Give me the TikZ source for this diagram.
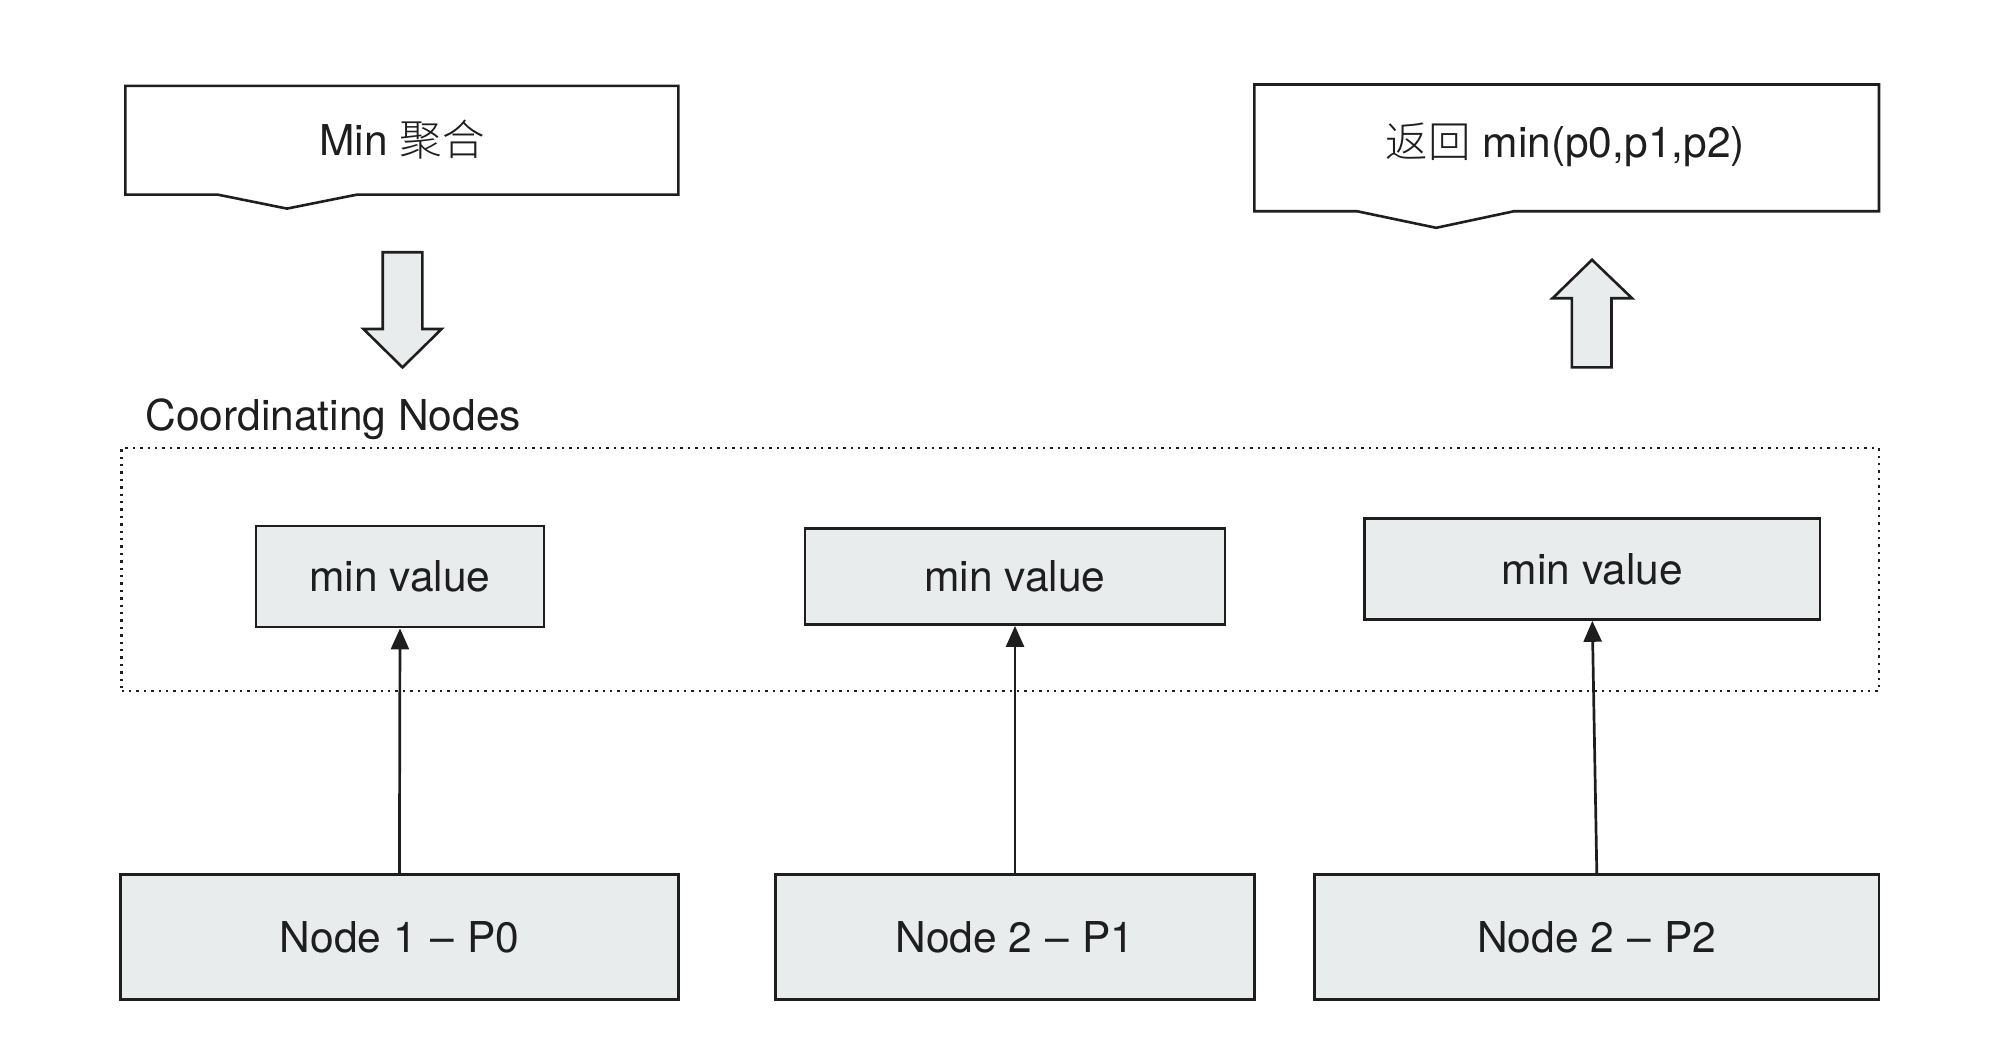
\documentclass[tikz,border=0pt]{standalone}
\usepackage{fontspec}
\setmainfont{TeX Gyre Heros}
\newfontfamily\cjk{Noto Sans CJK SC Light}
\usetikzlibrary{arrows.meta}
\definecolor{boxfill}{RGB}{232,236,237}
\definecolor{ink}{RGB}{30,30,30}
% en dash with slightly widened spacing on both sides
\newcommand{\spdash}{\kern1.5pt–\kern1.5pt{} }

\begin{document}
\begin{tikzpicture}[x=1pt,y=-1pt,
  txt/.style={font=\fontsize{42.5}{50}\selectfont, text=ink},
  box/.style={txt, draw=ink, line width=2.6pt, fill=boxfill, inner sep=0pt},
  link/.style={draw=ink, line width=2.7pt, -{Triangle[length=21pt,width=18pt]}},
  callout/.style={draw=ink, line width=2.6pt, fill=white, line join=miter},
  blockarrow/.style={draw=ink, line width=2.6pt, fill=boxfill, line join=miter},
  cluster/.style={draw=ink, line width=2.4pt, dash pattern=on 2.4pt off 5pt, inner sep=0pt}
]
\useasboundingbox (0,0) rectangle (2007,1050);

% coordinating-node group frame
\node[cluster, minimum width=1757.4pt, minimum height=243.2pt] (coord) at (1000.3,569.6) {};
\node[txt, anchor=west] (coordlabel) at (142,419) {Coordinating Nodes};

% partial results on the coordinating node
\node[box, minimum width=288pt, minimum height=101pt] (mv1) at (400,576.6) {min value};
\node[box, minimum width=420pt, minimum height=96pt] (mv2) at (1015,576.6) {min value};
\node[box, minimum width=455.5pt, minimum height=101pt] (mv3) at (1592.3,569) {min value};

% data nodes
\node[box, minimum width=558pt, minimum height=125.5pt] (n1) at (399.4,937) {Node 1 \spdash P0};
\node[box, minimum width=478.7pt, minimum height=125.5pt] (n2) at (1015,937) {Node 2 \spdash P1};
\node[box, minimum width=564.4pt, minimum height=125.5pt] (n3) at (1596.8,937) {Node 2 \spdash P2};

\draw[link] (n1.north) -- (mv1.south);
\draw[link] (n2.north) -- (mv2.south);
\draw[link] (n3.north) -- (mv3.south);

% request callout and block arrow
\draw[callout] (125.4,85.8) -- (678.4,85.8) -- (678.4,194.6) -- (357.1,194.6)
  -- (287,208.6) -- (217.6,194.6) -- (125.4,194.6) -- cycle;
\node[txt] (aggtext) at (402,139.5) {Min {\cjk 聚合}};
\draw[blockarrow] (382.7,252.2) -- (422.4,252.2) -- (422.4,329) -- (441.6,329)
  -- (402.5,367.4) -- (363.5,329) -- (382.7,329) -- cycle;

% result callout and block arrow
\draw[callout] (1254.4,84.5) -- (1879,84.5) -- (1879,211.2) -- (1514.2,211.2)
  -- (1436.2,227.8) -- (1356.8,211.2) -- (1254.4,211.2) -- cycle;
\node[txt] (rettext) at (1565.4,144.6) {{\cjk 返回} min(p0,p1,p2)};
\draw[blockarrow] (1571.8,367.4) -- (1611.5,367.4) -- (1611.5,298.2) -- (1632,298.2)
  -- (1592,259.8) -- (1552.6,298.2) -- (1571.8,298.2) -- cycle;
\end{tikzpicture}
\end{document}
